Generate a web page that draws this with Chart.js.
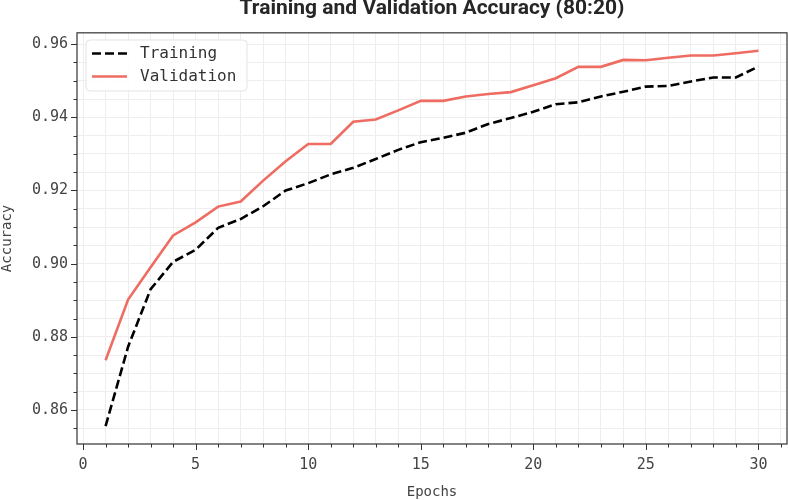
<!DOCTYPE html>
<html>
<head>
<meta charset="utf-8">
<script src="https://cdn.jsdelivr.net/npm/chart.js@4.4.1/dist/chart.umd.min.js"></script>
<style>
  html, body { margin: 0; padding: 0; background: #ffffff; }
  #wrap { width: 788px; height: 500px; }
</style>
</head>
<body>
<div id="wrap"><canvas id="c" width="788" height="500"></canvas></div>
<script>
const epochs = [1,2,3,4,5,6,7,8,9,10,11,12,13,14,15,16,17,18,19,20,21,22,23,24,25,26,27,28,29,30];
const trainingAcc = [0.8556,0.8773,0.8930,0.9005,0.9038,0.9098,0.9122,0.9157,0.9200,0.9220,0.9244,0.9262,0.9286,0.9311,0.9332,0.9344,0.9358,0.9382,0.9398,0.9415,0.9436,0.9441,0.9457,0.9470,0.9484,0.9486,0.9498,0.9509,0.9509,0.9539];
const validationAcc = [0.8736,0.8902,0.8990,0.9077,0.9113,0.9156,0.9170,0.9227,0.9280,0.9327,0.9327,0.9388,0.9394,0.9419,0.9445,0.9445,0.9457,0.9464,0.9469,0.9488,0.9507,0.9538,0.9538,0.9557,0.9556,0.9563,0.9569,0.9569,0.9575,0.9582];
const xTickLabels = [0,5,10,15,20,25,30];
const yTickLabels = [0.86,0.88,0.90,0.92,0.94,0.96];
const xMinorTicks = [0,1,2,3,4,5,6,7,8,9,10,11,12,13,14,15,16,17,18,19,20,21,22,23,24,25,26,27,28,29,30,31];
const yMinorTicks = [0.855,0.860,0.865,0.870,0.875,0.880,0.885,0.890,0.895,0.900,0.905,0.910,0.915,0.920,0.925,0.930,0.935,0.940,0.945,0.950,0.955,0.960];

const MONO = '"DejaVu Sans Mono", "Liberation Mono", monospace';
const AXIS_COLOR = '#333333';
const GRID_COLOR = '#eeeeee';
const VAL_COLOR = '#ee6c61';

function isMajorX(v) { return xTickLabels.some(t => Math.abs(t - v) < 1e-6); }
function isMajorY(v) { return yTickLabels.some(t => Math.abs(t - v) < 1e-6); }

const decorPlugin = {
  id: 'decor',
  afterDraw(chart) {
    const ctx = chart.ctx;
    const a = chart.chartArea;
    const xs = chart.scales.x, ys = chart.scales.y;
    ctx.save();
    // frame
    ctx.strokeStyle = AXIS_COLOR;
    ctx.lineWidth = 1.2;
    ctx.strokeRect(a.left, a.top, a.right - a.left, a.bottom - a.top);
    // tick marks
    ctx.lineWidth = 1;
    ctx.beginPath();
    xMinorTicks.forEach(v => {
      const px = Math.round(xs.getPixelForValue(v)) + 0.5;
      const len = isMajorX(v) ? 6 : 3.5;
      ctx.moveTo(px, a.bottom);
      ctx.lineTo(px, a.bottom + len);
    });
    yMinorTicks.forEach(v => {
      const py = Math.round(ys.getPixelForValue(v)) + 0.5;
      const len = isMajorY(v) ? 6 : 3.5;
      ctx.moveTo(a.left, py);
      ctx.lineTo(a.left - len, py);
    });
    ctx.stroke();

    // legend
    const lx = 86, ly = 40, lw = 161, lh = 51, r = 4;
    ctx.beginPath();
    ctx.moveTo(lx + r, ly);
    ctx.lineTo(lx + lw - r, ly);
    ctx.quadraticCurveTo(lx + lw, ly, lx + lw, ly + r);
    ctx.lineTo(lx + lw, ly + lh - r);
    ctx.quadraticCurveTo(lx + lw, ly + lh, lx + lw - r, ly + lh);
    ctx.lineTo(lx + r, ly + lh);
    ctx.quadraticCurveTo(lx, ly + lh, lx, ly + lh - r);
    ctx.lineTo(lx, ly + r);
    ctx.quadraticCurveTo(lx, ly, lx + r, ly);
    ctx.closePath();
    ctx.fillStyle = 'rgba(255,255,255,0.85)';
    ctx.fill();
    ctx.strokeStyle = '#e3e3e3';
    ctx.lineWidth = 1;
    ctx.stroke();

    const items = chart.data.datasets.map(ds => ({ label: ds.label, color: ds.borderColor, dash: ds.borderDash || [] }));
    const rows = [53.5, 76.5];
    items.forEach((it, i) => {
      ctx.beginPath();
      ctx.setLineDash(it.dash);
      ctx.strokeStyle = it.color;
      ctx.lineWidth = 2.6;
      ctx.moveTo(92, rows[i]);
      ctx.lineTo(127, rows[i]);
      ctx.stroke();
      ctx.setLineDash([]);
      ctx.fillStyle = '#333333';
      ctx.font = '16px ' + MONO;
      ctx.textBaseline = 'middle';
      ctx.textAlign = 'left';
      ctx.fillText(it.label, 140, rows[i] + 0.5);
    });
    ctx.restore();
  }
};

new Chart(document.getElementById('c'), {
  type: 'line',
  data: {
    labels: epochs,
    datasets: [
      {
        label: 'Training',
        data: epochs.map((e, i) => ({ x: e, y: trainingAcc[i] })),
        borderColor: '#000000',
        borderWidth: 2.6,
        borderDash: [9, 4],
        pointRadius: 0,
        tension: 0,
        fill: false
      },
      {
        label: 'Validation',
        data: epochs.map((e, i) => ({ x: e, y: validationAcc[i] })),
        borderColor: VAL_COLOR,
        borderWidth: 2.6,
        pointRadius: 0,
        tension: 0,
        fill: false
      }
    ]
  },
  options: {
    responsive: false,
    animation: false,
    devicePixelRatio: 1,
    layout: { padding: { left: 0, right: 1, top: 0, bottom: 0 } },
    plugins: {
      legend: { display: false },
      tooltip: { enabled: false },
      title: {
        display: true,
        fullSize: false,
        text: 'Training and Validation Accuracy (80:20)',
        color: '#262626',
        font: { family: 'Roboto, "Liberation Sans", sans-serif', size: 21, weight: 'bold', lineHeight: 0.83 },
        padding: { top: 0, bottom: 15.4 }
      }
    },
    scales: {
      x: {
        type: 'linear',
        min: -0.27,
        max: 31.27,
        afterFit(scale) { scale.height = 56; },
        afterBuildTicks(scale) { scale.ticks = xMinorTicks.map(v => ({ value: v })); },
        grid: { color: GRID_COLOR, lineWidth: 1, drawTicks: true, tickLength: 6, tickColor: 'rgba(0,0,0,0)' },
        border: { display: false },
        ticks: {
          autoSkip: false,
          maxRotation: 0,
          padding: 6,
          color: '#444444',
          font: { family: MONO, size: 15 },
          callback(v) { return isMajorX(v) ? String(v) : ''; }
        },
        title: {
          display: true,
          text: 'Epochs',
          color: '#444444',
          font: { family: MONO, size: 14, lineHeight: 1.1 },
          padding: { top: 0, bottom: 0 }
        }
      },
      y: {
        type: 'linear',
        min: 0.8507,
        max: 0.9631,
        afterFit(scale) { scale.width = 77; },
        afterBuildTicks(scale) { scale.ticks = yMinorTicks.map(v => ({ value: v })); },
        grid: { color: GRID_COLOR, lineWidth: 1, drawTicks: true, tickLength: 6, tickColor: 'rgba(0,0,0,0)' },
        border: { display: false },
        ticks: {
          autoSkip: false,
          padding: 3,
          color: '#444444',
          font: { family: MONO, size: 15 },
          callback(v) { return isMajorY(v) ? v.toFixed(2) : ''; }
        },
        title: {
          display: true,
          text: 'Accuracy',
          color: '#444444',
          font: { family: MONO, size: 14, lineHeight: 1.0 },
          padding: { top: 0, bottom: 0 }
        }
      }
    }
  },
  plugins: [decorPlugin]
});
</script>
</body>
</html>
